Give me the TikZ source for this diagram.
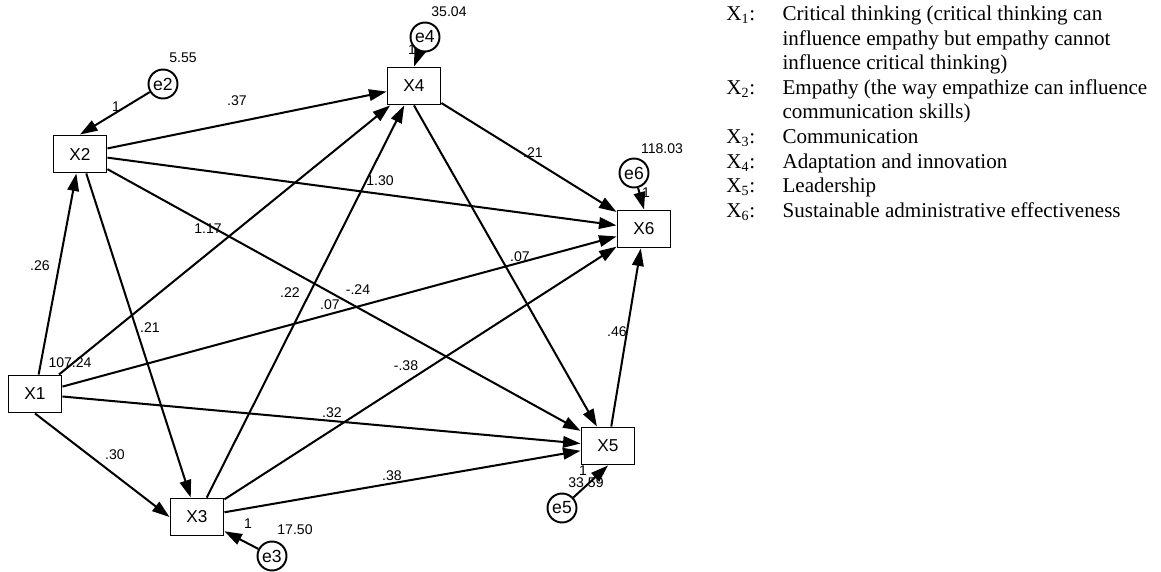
\documentclass[tikz,border=0pt]{standalone}
\usepackage{fontspec}
\setmainfont{Liberation Serif}
\setsansfont{Liberation Sans}
\usetikzlibrary{arrows.meta}

\begin{document}
\begin{tikzpicture}[x=0.02cm, y=-0.02cm, every node/.style={inner sep=0pt}]

\tikzset{
    var/.style={draw, line width=1.1pt, minimum width=1.06cm, minimum height=0.74cm, font=\sffamily\fontsize{9.8}{11}\selectfont},
    err/.style={circle, draw, line width=1.1pt, minimum size=0.58cm, font=\sffamily\fontsize{10}{12}\selectfont},
    est/.style={font=\sffamily\fontsize{8}{9.6}\selectfont},
    reg/.style={line width=1.15pt, -{Triangle[length=3.5mm, width=2.3mm]}}
}

\useasboundingbox (0,0) rectangle (1161,572);

% observed variables
\node[var] (X1) at (35,394) {X1};
\node[var] (X2) at (80,154) {X2};
\node[var] (X3) at (197,517) {X3};
\node[var] (X4) at (414,86) {X4};
\node[var] (X5) at (608,446) {X5};
\node[var] (X6) at (644,229) {X6};

% error terms
\node[err] (e2) at (163,84) {e2};
\node[err] (e3) at (272,556) {e3};
\node[err] (e4) at (425,37) {e4};
\node[err] (e5) at (562,508) {e5};
\node[err] (e6) at (634,173) {e6};

% regression paths
\foreach \a/\b in {X1/X2, X1/X4, X1/X5, X1/X6, X2/X3, X2/X4, X2/X5, X2/X6, X3/X4, X3/X5, X3/X6, X4/X6, X5/X6} {
    \draw[reg] (\a) -- (\b);
}
\draw[reg] (X1.south) -- (X3.west);
\draw[reg] (X4.south) -- (X5);

\foreach \e/\t in {e2/X2.north, e3/X3, e4/X4.north, e5/X5.south, e6/X6.north} {
    \draw[reg] (\e) -- (\t);
}

% variances and fixed weights
\foreach \v/\x/\y [count=\i] in {5.55/183/58, 35.04/449/12, 118.03/662/149, 107.24/70/363, 17.50/295/530, 33.59/586/483} {
    \node[est] (var\i) at (\x,\y) {\v};
}
\foreach \x/\y [count=\i] in {116/107, 412/50, 646/193, 248/524, 583/471} {
    \node[est] (one\i) at (\x,\y) {1};
}

% path coefficients
\foreach \v/\x/\y [count=\i] in {.37/237/101, 1.30/380/181, 1.17/208/229, .26/40/266, .22/290/293, -.24/358/290, .07/330/305, .21/150/328, .32/332/413, .30/115/455, .38/392/476, -.38/406/366, .46/617/332, .21/533/153, .07/520/257} {
    \node[est] (w\i) at (\x,\y) {\v};
}

% legend
\node[anchor=north west, font=\rmfamily\fontsize{12}{14}\selectfont] (legend) at (726,3) {%
\begin{tabular}{@{}p{32pt}@{}l@{}}
X\textsubscript{1}: & Critical thinking (critical thinking can\\
 & influence empathy but empathy cannot\\
 & influence critical thinking)\\
X\textsubscript{2}: & Empathy (the way empathize can influence\\
 & communication skills)\\
X\textsubscript{3}: & Communication\\
X\textsubscript{4}: & Adaptation and innovation\\
X\textsubscript{5}: & Leadership\\
X\textsubscript{6}: & Sustainable administrative effectiveness
\end{tabular}};

\end{tikzpicture}
\end{document}
